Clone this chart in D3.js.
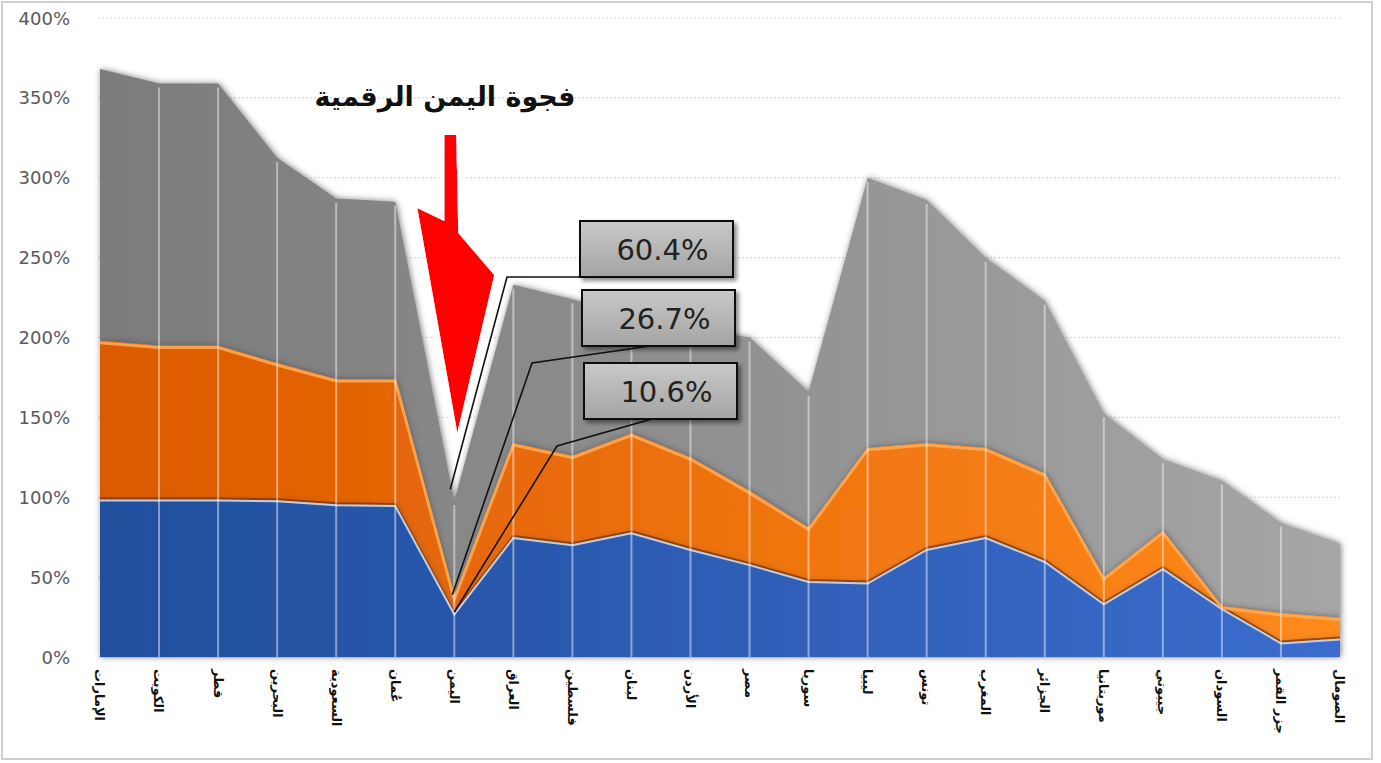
<!DOCTYPE html>
<html>
<head>
<meta charset="utf-8">
<script src="https://cdn.jsdelivr.net/npm/d3@7"></script>
<style>
  body { margin: 0; background: #fff; }
  svg { display: block; }
</style>
</head>
<body>
<svg id="chart" width="1381" height="763"></svg>
<script>
// categories (drawn left to right as in the source)
const countries = ["الإمارات", "الكويت", "قطر", "البحرين", "السعودية", "عُمان", "اليمن", "العراق",
  "فلسطين", "لبنان", "الأردن", "مصر", "سوريا", "ليبيا", "تونس", "المغرب", "الجزائر",
  "موريتانيا", "جيبوتي", "السودان", "جزر القمر", "الصومال"];

// series values in percent (stacked bottom → top)
const blueVals   = [98, 98, 98, 97.5, 95, 94.5, 26.7, 74.5, 70, 77.5, 67, 57.5, 47, 46, 67, 74.5, 59.5, 33, 55, 30, 8.5, 11];
const orangeVals = [100, 97, 97, 86.5, 79, 79.5, 10.6, 59.5, 56, 62.5, 58, 46.5, 34, 85, 67, 56.5, 55.5, 17, 24, 2, 19, 13.5];
const grayVals   = [170, 164, 164, 128.5, 113, 111, 60.4, 99, 98, 74, 81, 96, 85, 169, 152, 119, 108, 102.5, 45, 78.5, 56.5, 46.5];

const yTicks = [0, 50, 100, 150, 200, 250, 300, 350, 400];
const title = "فجوة اليمن الرقمية";
const highlight = "اليمن";

const svg = d3.select("#chart");

const x = d3.scalePoint().domain(countries).range([100, 1340]);
const y = d3.scaleLinear().domain([0, 400]).range([657, 18]);

const rows = countries.map((c, i) => ({ country: c, blue: blueVals[i], orange: orangeVals[i], gray: grayVals[i] }));
const keys = ["blue", "orange", "gray"];
const series = d3.stack().keys(keys)(rows);

// defs: gradients and filters
const defs = svg.append("defs");
function hGrad(id, c0, c1) {
  const g = defs.append("linearGradient").attr("id", id)
    .attr("gradientUnits", "userSpaceOnUse")
    .attr("x1", x.range()[0]).attr("x2", x.range()[1]).attr("y1", 0).attr("y2", 0);
  g.append("stop").attr("offset", 0).attr("stop-color", c0);
  g.append("stop").attr("offset", 1).attr("stop-color", c1);
}
hGrad("g-blue", "#214f9d", "#3b6ccd");
hGrad("g-orange", "#dc5a00", "#ff8a1d");
hGrad("g-gray", "#7b7b7b", "#a6a6a6");

const box = defs.append("linearGradient").attr("id", "g-box").attr("x1", 0).attr("x2", 0).attr("y1", 0).attr("y2", 1);
box.append("stop").attr("offset", 0).attr("stop-color", "#c9c9c9");
box.append("stop").attr("offset", 1).attr("stop-color", "#a4a4a4");

const soft = defs.append("filter").attr("id", "soft").attr("x", "-5%").attr("y", "-10%").attr("width", "110%").attr("height", "120%");
soft.append("feDropShadow").attr("dx", 1).attr("dy", 0).attr("stdDeviation", 3)
  .attr("flood-color", "#4a4a4a").attr("flood-opacity", 0.7);

const shadow = defs.append("filter").attr("id", "shadow").attr("x", "-20%").attr("y", "-30%").attr("width", "140%").attr("height", "160%");
shadow.append("feDropShadow").attr("dx", 3).attr("dy", 3).attr("stdDeviation", 2)
  .attr("flood-color", "#000").attr("flood-opacity", 0.45);

const glow = defs.append("filter").attr("id", "glow").attr("x", "-50%").attr("y", "-20%").attr("width", "200%").attr("height", "140%");
glow.append("feMorphology").attr("in", "SourceAlpha").attr("operator", "dilate").attr("radius", 4).attr("result", "d");
glow.append("feGaussianBlur").attr("in", "d").attr("stdDeviation", 2).attr("result", "b");
glow.append("feFlood").attr("flood-color", "#ffffff");
glow.append("feComposite").attr("in2", "b").attr("operator", "in").attr("result", "w");
const gm = glow.append("feMerge");
gm.append("feMergeNode").attr("in", "w");
gm.append("feMergeNode").attr("in", "SourceGraphic");

// frame
svg.append("rect").attr("x", 2).attr("y", 2).attr("width", 1370).attr("height", 757)
  .attr("fill", "#fff").attr("stroke", "#cfcfcf").attr("stroke-width", 2);

// gridlines
svg.append("g").selectAll("line").data(yTicks.filter(t => t > 0)).join("line")
  .attr("x1", 98).attr("x2", x.range()[1])
  .attr("y1", d => y(d)).attr("y2", d => y(d))
  .attr("stroke", "#d6d6d6").attr("stroke-width", 1.2).attr("stroke-dasharray", "2,2");
svg.append("line").attr("x1", 98).attr("x2", x.range()[1]).attr("y1", y(0)).attr("y2", y(0))
  .attr("stroke", "#d9d9d9");

// y labels
svg.append("g").selectAll("text").data(yTicks).join("text")
  .attr("x", 70).attr("y", d => y(d)).attr("text-anchor", "end").attr("dominant-baseline", "central")
  .attr("font-family", "DejaVu Sans, sans-serif").attr("font-size", 18).attr("fill", "#595959")
  .text(d => d + "%");

// areas
const area = d3.area().x(d => x(d.data.country)).y0(d => y(d[0])).y1(d => y(d[1]));
const topLine = d3.line().x(d => x(d.data.country)).y(d => y(d[1]));
const fills = { blue: "url(#g-blue)", orange: "url(#g-orange)", gray: "url(#g-gray)" };

const layers = svg.append("g");
[...series].reverse().forEach(s => {
  layers.append("path").datum(s).attr("d", area).attr("fill", fills[s.key]).attr("filter", "url(#soft)");
});

// bevel-like edges
const sBlue = series[0], sOrange = series[1];
layers.append("path").datum(sBlue).attr("d", topLine).attr("fill", "none")
  .attr("stroke", "#7a3200").attr("stroke-width", 2).attr("transform", "translate(0,-2)").attr("opacity", 0.7);
layers.append("path").datum(sBlue).attr("d", topLine).attr("fill", "none")
  .attr("stroke", "#c4cde0").attr("stroke-width", 2);
layers.append("path").datum(sOrange).attr("d", topLine).attr("fill", "none")
  .attr("stroke", "#ffa850").attr("stroke-width", 3).attr("transform", "translate(0,2)").attr("opacity", 0.9);

// vertical category lines over the areas
const topS = series[2];
svg.append("g").selectAll("line").data(topS.slice(1, -1)).join("line")
  .attr("x1", d => x(d.data.country)).attr("x2", d => x(d.data.country))
  .attr("y1", y(0)).attr("y2", d => y(d[1]) + 4)
  .attr("stroke", "#ffffff").attr("stroke-opacity", 0.45).attr("stroke-width", 2);

// x labels (rotated)
svg.append("g").selectAll("text").data(countries).join("text")
  .attr("transform", d => `translate(${x(d)},669) rotate(90)`)
  .attr("dy", "0.35em").attr("text-anchor", "start")
  .attr("font-family", "DejaVu Sans, sans-serif").attr("font-size", 13).attr("font-weight", "bold")
  .attr("fill", "#111").text(d => d);

// title
svg.append("text").attr("x", 445).attr("y", 106).attr("text-anchor", "middle")
  .attr("font-family", "DejaVu Sans, sans-serif").attr("font-size", 27).attr("font-weight", "bold")
  .attr("fill", "#111").text(title);

// red arrow pointing at Yemen
const hi = countries.indexOf(highlight);
const ax = x(highlight);
const arrowPts = [[-10, 135], [2, 135], [4, 233], [40, 275], [3, 433], [-37, 208], [-10, 221]];
svg.append("polygon")
  .attr("points", arrowPts.map(p => [ax + p[0], p[1]].join(",")).join(" "))
  .attr("fill", "#ff0000").attr("filter", "url(#glow)");

// callouts for Yemen's three values
const fmt = v => v.toFixed(1) + "%";
const callouts = [
  { v: grayVals[hi],   bx: 580, by: 221, knee: [507, 277], end: [ax - 4, y(105)] },
  { v: blueVals[hi],   bx: 582, by: 290, knee: [532, 363], end: [ax - 2, y(39)] },
  { v: orangeVals[hi], bx: 584, by: 363, knee: [557, 446], end: [ax, y(28)] }
];
const cg = svg.append("g");
callouts.forEach((c, i) => {
  const bw = 153, bh = 56;
  cg.append("polyline")
    .attr("points", [[c.bx + (i === 0 ? 0 : 68), c.by + bh], c.knee, c.end].map(p => p.join(",")).join(" "))
    .attr("fill", "none").attr("stroke", "#111").attr("stroke-width", 1.6);
  cg.append("rect").attr("x", c.bx).attr("y", c.by).attr("width", bw).attr("height", bh)
    .attr("fill", "url(#g-box)").attr("stroke", "#111").attr("stroke-width", 2).attr("filter", "url(#shadow)");
  cg.append("text").attr("x", c.bx + bw / 2 + 6).attr("y", c.by + bh / 2 + 1)
    .attr("text-anchor", "middle").attr("dominant-baseline", "central")
    .attr("font-family", "DejaVu Sans, sans-serif").attr("font-size", 29).attr("fill", "#222")
    .text(fmt(c.v));
});
</script>
</body>
</html>
